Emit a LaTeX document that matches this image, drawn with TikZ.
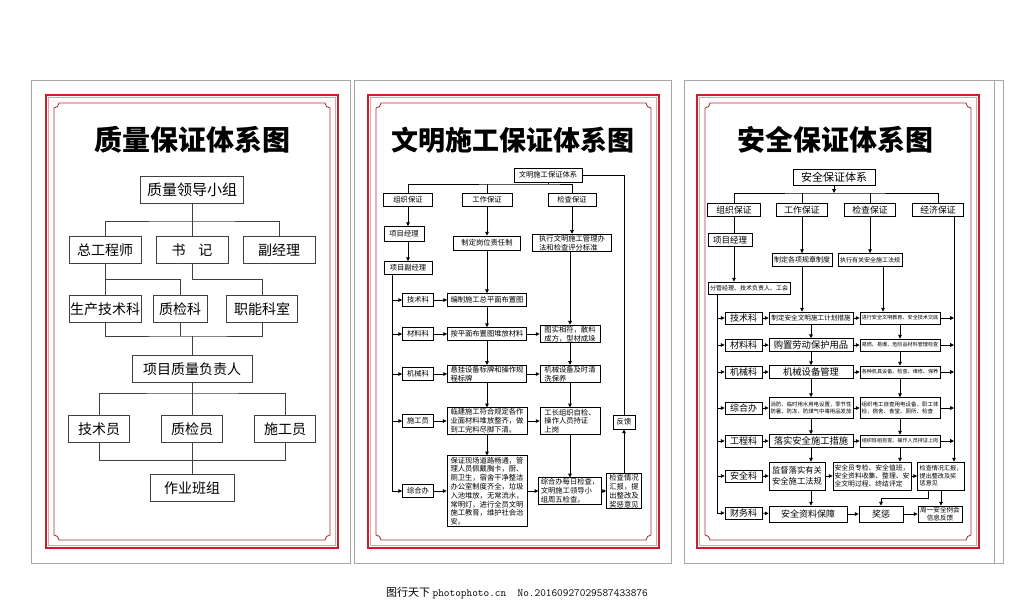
\documentclass[tikz,border=0pt]{standalone}
\usepackage{fontspec}
\newfontfamily\cjk{Noto Sans CJK SC}
\usetikzlibrary{arrows.meta}
\usetikzlibrary{calc}
\definecolor{framered}{RGB}{200,30,45}
\definecolor{framepink}{RGB}{232,160,168}
\definecolor{framedark}{RGB}{165,55,65}
\tikzset{
  box/.style={draw, line width=0.8pt, inner sep=1pt, align=center},
  title/.style={inner sep=0pt, font=\cjk\bfseries\fontsize{28}{28}\selectfont},
  qbox/.style={box, draw=black!75, line width=0.9pt, inner xsep=0.5pt, minimum height=27pt, font=\cjk\fontsize{14}{14}\selectfont},
  wbox/.style={box, minimum height=13pt, inner xsep=2pt, font=\cjk\fontsize{7.3}{8.8}\selectfont},
  sbox/.style={box, minimum height=12pt, font=\cjk\fontsize{9}{10}\selectfont},
  fs/.style={font=\cjk\fontsize{#1}{#1}\selectfont},
}

\begin{document}
\begin{tikzpicture}[x=1pt, y=-1pt, line width=0.8pt, >={Triangle[length=3.8pt,width=3.6pt]}]
  \useasboundingbox[fill=white] (0,0) rectangle (1024,603);

  \foreach \xa/\xb/\ra/\rb in {31/350/46/338, 354/671/368/659, 684/1003/697/979}{
    \draw[gray!70, line width=0.9pt] (\xa,80) rectangle (\xb,563);
    \draw[framered, line width=2.6pt] (\ra,95) rectangle (\rb,548);
    \draw[framepink, line width=0.6pt] (\ra+2.6,97.6) rectangle (\rb-2.6,545.4);
    \draw[framedark, line width=0.9pt] (\ra+13,103) -- (\rb-13,103)
      arc[start angle=180, end angle=90, radius=5] -- (\rb-8,535)
      arc[start angle=270, end angle=180, radius=5] -- (\ra+13,540)
      arc[start angle=360, end angle=270, radius=5] -- (\ra+8,108)
      arc[start angle=90, end angle=0, radius=5] -- cycle;
  }
  \draw[gray!70, line width=0.9pt] (994,80) -- (994,563);

  % quality
  \node[title] (title1) at (192,140) {质量保证体系图};
  \node[qbox, minimum width=103pt, font=\cjk\fontsize{15}{15}\selectfont] (lead) at (192,190) {质量领导小组};
  \node[qbox, minimum width=72pt] (zgcs) at (105,250) {总工程师};
  \node[qbox, minimum width=72pt] (sj) at (192,250) {书\hspace{0.9em}记};
  \node[qbox, minimum width=72pt] (fjl) at (279,250) {副经理};
  \node[qbox, minimum width=72pt] (scjsk) at (105,309) {生产技术科};
  \node[qbox, minimum width=54pt] (zjk) at (180,309) {质检科};
  \node[qbox, minimum width=71pt] (znks) at (262,309) {职能科室};
  \node[qbox, minimum width=120pt] (xmfz) at (192,369) {项目质量负责人};
  \node[qbox, minimum width=61pt] (jsy) at (99,429) {技术员};
  \node[qbox, minimum width=61pt] (zjy) at (192,429) {质检员};
  \node[qbox, minimum width=61pt] (sgy) at (285,429) {施工员};
  \node[qbox, minimum width=84pt] (zybz) at (192,488) {作业班组};

  \coordinate (j1) at (192,221);
  \coordinate (j2) at (105,279);
  \coordinate (j3) at (192,279);
  \coordinate (j4) at (192,336);
  \coordinate (j5) at (192,393);
  \coordinate (j6) at (192,460);
  \begin{scope}[draw=black!75, line width=0.9pt]
  \draw (lead) -- (sj);
  \draw (zgcs) |- (j1) -| (fjl);
  \draw (zgcs) -- (scjsk);
  \draw (j2) -| (zjk);
  \draw (sj) -- (j3) -| (znks);
  \draw (scjsk) |- (j4) -| (znks);
  \draw (zjk) -- (zjk |- j4);
  \draw (j4) -- (xmfz);
  \draw (jsy) |- (j5) -| (sgy);
  \draw (xmfz) -- (zjy);
  \draw (jsy) |- (j6) -| (sgy);
  \draw (zjy) -- (zybz);
  \end{scope}

  % civilized construction
  \node[title, font=\cjk\bfseries\fontsize{27}{27}\selectfont] (title2) at (513,140) {文明施工保证体系图};
  \node[wbox, minimum width=68pt, minimum height=14pt] (wmtx) at (548,175) {文明施工保证体系};
  \node[wbox, minimum width=49pt] (zz2) at (408,200) {组织保证};
  \node[wbox, minimum width=50pt] (gz2) at (487,200) {工作保证};
  \node[wbox, minimum width=48pt] (jc2) at (572,200) {检查保证};
  \node[wbox, minimum width=40pt, minimum height=15pt] (xmjl2) at (404,234) {项目经理};
  \node[wbox, minimum width=48pt] (xmfjl2) at (408,268) {项目副经理};
  \node[wbox, minimum width=67pt, minimum height=14pt] (gwzr) at (487,243) {制定岗位责任制};
  \node[wbox, minimum width=79pt, align=left] (zxbf) at (572,243) {执行文明施工管理办\\法和检查评分标准};
  \node[wbox, minimum width=31pt] (jsk2) at (418,300) {技术科};
  \node[wbox, minimum width=79pt] (bzzp) at (487,300) {编制施工总平面布置图};
  \node[wbox, minimum width=31pt] (clk2) at (418,334) {材料科};
  \node[wbox, minimum width=79pt] (afcl) at (487,334) {按平面布置图堆放材料};
  \node[wbox, minimum width=60pt, align=left] (tsxf) at (570,334) {图实相符，散料\\成方，型材成垛};
  \node[wbox, minimum width=31pt] (jxk2) at (418,374) {机械科};
  \node[wbox, minimum width=79pt, align=left] (xgsb) at (487,374) {悬挂设备标牌和操作规\\程标牌};
  \node[wbox, minimum width=60pt, align=left] (jxsb) at (570,374) {机械设备及时清\\洗保养};
  \node[wbox, minimum width=31pt] (sgy2) at (418,421) {施工员};
  \node[wbox, minimum width=80pt, align=left] (ljsg) at (487,421) {临建施工符合规定各作\\业面材料堆放整齐，做\\到工完料尽脚下清。};
  \node[wbox, minimum width=60pt, align=left] (gzzj) at (570,421) {工长组织自检、\\操作人员持证\\上岗};
  \node[wbox, minimum width=31pt] (zhb2) at (418,491) {综合办};
  \node[wbox, minimum width=80pt, align=left] (bzxc) at (487,491) {保证现场道路畅通，管\\理人员佩戴胸卡，厨、\\厕卫生，宿舍干净整洁\\办公室制度齐全，垃圾\\入池堆放，无常流水，\\常明灯，进行全员文明\\施工教育，维护社会治\\安。};
  \node[wbox, minimum width=60pt, align=left] (mrjc) at (570,491) {综合办每日检查，\\文明施工领导小\\组周五检查。};
  \node[wbox, minimum width=35pt, align=left] (jcqk2) at (624,491) {检查情况\\汇报，提\\出整改及\\奖惩意见};
  \node[wbox, minimum width=22pt, minimum height=14pt] (fk) at (624,422) {反馈};

  \coordinate (t2) at (548,184);
  \coordinate (sp2) at (392,491);
  \draw (wmtx) -- (t2);
  \draw (zz2) |- (t2) -| (jc2);
  \draw (gz2) -- (gz2 |- t2);
  \draw[->] (zz2) -- (zz2 |- xmjl2.north);
  \draw[->] (xmjl2.south -| zz2) -- (xmfjl2);
  \draw[->] (xmfjl2.south -| sp2) |- (zhb2);
  \foreach \n in {jsk2,clk2,jxk2,sgy2}
    \draw[->] (sp2 |- \n) -- (\n);
  \foreach \a/\b in {gz2/gwzr, gwzr/bzzp, bzzp/afcl, afcl/xgsb, xgsb/ljsg, ljsg/bzxc,
      jc2/zxbf, tsxf/jxsb, jxsb/gzzj, gzzj/mrjc,
      jsk2/bzzp, clk2/afcl, afcl/tsxf, jxk2/xgsb, xgsb/jxsb, sgy2/ljsg, ljsg/gzzj,
      zhb2/bzxc, bzxc/mrjc, mrjc/jcqk2, jcqk2/fk}
    \draw[->] (\a) -- (\b);
  \draw[->] (zxbf.south -| tsxf) -- (tsxf);
  \draw (fk) |- (wmtx);

  % safety
  \node[title] (title3) at (835,140) {安全保证体系图};
  \node[sbox, fs=11, minimum width=82pt, minimum height=16pt] (aqtx) at (834,177) {安全保证体系};
  \node[sbox, fs=8.8, minimum width=53pt, minimum height=13pt] (zz3) at (734,210) {组织保证};
  \node[sbox, fs=8.8, minimum width=51pt, minimum height=13pt] (gz3) at (802,210) {工作保证};
  \node[sbox, fs=8.8, minimum width=51pt, minimum height=13pt] (jc3) at (870,210) {检查保证};
  \node[sbox, fs=8.8, minimum width=51pt, minimum height=13pt] (jj3) at (938,210) {经济保证};
  \node[sbox, fs=8.5, minimum width=44pt, minimum height=13pt] (xmjl3) at (730,240) {项目经理};
  \node[sbox, fs=6, minimum width=82pt] (fgjl) at (749,288) {分管经理、技术负责人、工会};
  \node[sbox, fs=7, minimum width=60pt, minimum height=13pt] (gzzd) at (802,260) {制定各项规章制度};
  \node[sbox, fs=6, minimum width=64pt, minimum height=13pt] (zxfg) at (870,260) {执行有关安全施工法规};

  \node[sbox, minimum width=37pt] (jsk3) at (743.5,318) {技术科};
  \node[sbox, minimum width=37pt] (clk3) at (743.5,345) {材料科};
  \node[sbox, minimum width=37pt] (jxk3) at (743.5,372) {机械科};
  \node[sbox, minimum width=37pt] (zhb3) at (743.5,408) {综合办};
  \node[sbox, minimum width=37pt] (gck3) at (743.5,441) {工程科};
  \node[sbox, minimum width=37pt] (aqk3) at (743.5,476) {安全科};
  \node[sbox, minimum width=37pt] (cwk3) at (743.5,513) {财务科};

  \node[sbox, fs=6.6, minimum width=84pt] (aqcs) at (811,318) {制定安全文明施工计划措施};
  \node[sbox, fs=9.3, minimum width=84pt, minimum height=13pt] (lbyp) at (811,345) {购置劳动保护用品};
  \node[sbox, fs=9.3, minimum width=84pt, minimum height=13pt] (jxgl) at (811,372) {机械设备管理};
  \node[sbox, font=\cjk\fontsize{5.4}{7}\selectfont, minimum width=84pt, minimum height=21pt] (xfsd) at (811,408) {消防、临时用水用电设置，季节性\\防暑、防冻、防煤气中毒用品发放};
  \node[sbox, fs=9.3, minimum width=84pt, minimum height=13pt] (lsaq) at (811,441) {落实安全施工措施};
  \node[sbox, font=\cjk\fontsize{8.3}{10.5}\selectfont, minimum width=56pt, minimum height=28pt] (jdls) at (797,476) {监督落实有关\\安全施工法规};
  \node[sbox, minimum width=78pt, minimum height=16pt] (zlbz) at (808,514) {安全资料保障};

  \node[sbox, fs=5.1, minimum width=80pt] (aqjy) at (900,318) {进行安全文明教育、安全技术交底};
  \node[sbox, fs=5.1, minimum width=80pt] (yryb) at (900,345) {易燃、易爆、危险品材料管理检查};
  \node[sbox, fs=5.1, minimum width=80pt] (gzjj) at (900,372) {各种机具设备、检查、维修、保养};
  \node[sbox, font=\cjk\fontsize{5.5}{7}\selectfont, align=left, minimum width=80pt, minimum height=21pt] (dgzc) at (900,408) {组织电工自查用电设备，职工体\\检，宿舍、食堂、厕所、检查};
  \node[sbox, fs=5.1, minimum width=80pt] (bzzc) at (900,441) {组织班组自查、操作人员持证上岗};
  \node[sbox, font=\cjk\fontsize{6.8}{8}\selectfont, align=left, minimum width=78pt, minimum height=28pt] (zjzb) at (872,476) {安全员专检、安全值班，\\安全资料收集、整理、安\\全文明过程、终结评定};
  \node[sbox, font=\cjk\fontsize{6.1}{7.6}\selectfont, align=left, minimum width=47pt, minimum height=28pt] (jcqk3) at (941,476) {检查情况汇报，\\提出整改及奖\\惩意见};
  \node[sbox, minimum width=44pt, minimum height=16pt] (jc) at (881,514) {奖惩};
  \node[sbox, font=\cjk\fontsize{6.6}{7.8}\selectfont, minimum width=44pt, minimum height=16pt] (zyhl) at (940,514) {周一安全例会\\信息反馈};

  \coordinate (t3) at (834,193);
  \coordinate (c3) at (883,300);
  \coordinate (sp3) at (717,513);
  \coordinate (sp4) at (954,300);
  \coordinate (k1) at (928,498);
  \draw[->] (aqtx) -- (t3);
  \draw (zz3) |- (t3) -| (jj3);
  \draw (gz3) -- (gz3 |- t3);
  \draw (jc3) -- (jc3 |- t3);
  \draw (zz3) -- (zz3 |- xmjl3.north);
  \draw[->] (xmjl3.south -| zz3) -- (zz3 |- fgjl.north);
  \draw[->] (gz3) -- (gzzd);
  \draw[->] (jc3) -- (zxfg);
  \draw[->] (gzzd) -- (gzzd |- aqcs.north);
  \draw[->] (zxfg.south -| c3) -- (c3 |- aqjy.north);
  \draw[->] (fgjl.south -| sp3) |- (cwk3);
  \foreach \n in {jsk3,clk3,jxk3,zhb3,gck3,aqk3}
    \draw[->] (sp3 |- \n) -- (\n);
  \foreach \a/\b in {jsk3/aqcs, aqcs/aqjy, clk3/lbyp, lbyp/yryb, jxk3/jxgl, jxgl/gzjj,
      zhb3/xfsd, xfsd/dgzc, gck3/lsaq, lsaq/bzzc, aqk3/jdls, jdls/zjzb, zjzb/jcqk3,
      cwk3/zlbz, zlbz/jc, jc/zyhl,
      aqcs/lbyp, lbyp/jxgl, jxgl/xfsd, xfsd/lsaq,
      aqjy/yryb, yryb/gzjj, gzjj/dgzc, dgzc/bzzc}
    \draw[->] (\a) -- (\b);
  \draw[->] (lsaq) -- (lsaq |- jdls.north);
  \draw[->] (jdls.south -| lsaq) -- (lsaq |- zlbz.north);
  \draw[->] (bzzc) -- (bzzc |- zjzb.north);
  \draw[->] (jj3.south -| sp4) -- (sp4 |- jcqk3.north);
  \foreach \n in {aqjy,yryb,gzjj,dgzc,bzzc}
    \draw[->] (\n) -- (\n -| sp4);
  \draw[->] (jcqk3.south -| k1) -- (k1) -| (jc);
  \draw[->] (jcqk3) -- (jcqk3 |- zyhl.north);

  \node[inner sep=0pt, font=\cjk\fontsize{11}{11}\selectfont] (wm) at (517,593) {图行天下 {\ttfamily photophoto.cn\ \ No.20160927029587433876}};
\end{tikzpicture}
\end{document}
